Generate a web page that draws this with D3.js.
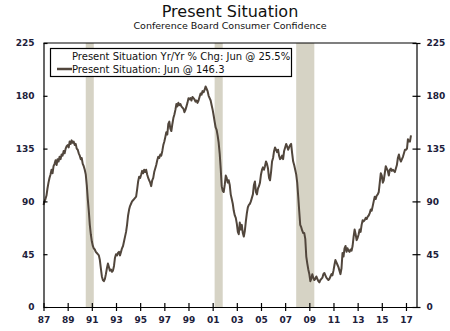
<!DOCTYPE html>
<html>
<head>
<meta charset="utf-8">
<script src="https://cdn.jsdelivr.net/npm/d3@7"></script>
<style>
  body { margin: 0; background: #fff; }
  svg { display: block; font-family: "DejaVu Sans", Verdana, sans-serif; }
</style>
</head>
<body>
<script>
// Present Situation index, monthly, Jan 1987 - Jun 2017
var startYear = 1987;
var monthly = [
  [87, 90, 92, 95, 101, 106, 110, 113, 117, 114, 120, 122],   // 1987
  [125, 121, 126, 124, 128, 126, 130, 129, 133, 131, 135, 137], // 1988
  [138, 136, 141, 139, 142, 140, 141, 138, 139, 135, 134, 131], // 1989
  [129, 126, 127, 122, 120, 117, 113, 104, 92, 82, 70, 62],     // 1990
  [56, 52, 50, 49, 47, 46, 45, 44, 40, 33, 26, 23],             // 1991
  [22, 24, 28, 33, 37, 34, 31, 32, 30, 31, 35, 42],             // 1992
  [45, 44, 46, 47, 44, 47, 50, 52, 56, 60, 64, 70],             // 1993
  [78, 83, 86, 88, 90, 91, 92, 93, 94, 100, 107, 111],          // 1994
  [110, 113, 116, 114, 117, 115, 117, 113, 110, 108, 106, 103], // 1995
  [108, 110, 115, 118, 121, 125, 128, 127, 130, 129, 133, 138], // 1996
  [141, 145, 149, 147, 156, 158, 152, 150, 156, 161, 164, 168], // 1997
  [173, 171, 174, 172, 173, 171, 170, 169, 166, 168, 171, 174], // 1998
  [178, 177, 178, 176, 179, 178, 177, 175, 176, 174, 176, 179], // 1999
  [182, 181, 184, 183, 185, 188, 186, 184, 180, 178, 176, 172], // 2000
  [168, 163, 158, 153, 151, 146, 140, 131, 118, 103, 99, 98],   // 2001
  [104, 112, 110, 106, 108, 104, 96, 92, 88, 82, 78, 76],       // 2002
  [71, 64, 62, 72, 66, 70, 63, 60, 65, 73, 80, 85],             // 2003
  [87, 88, 90, 93, 96, 104, 107, 98, 96, 101, 103, 106],        // 2004
  [113, 117, 119, 117, 120, 124, 122, 118, 110, 108, 115, 124], // 2005
  [127, 133, 136, 134, 132, 134, 129, 126, 127, 129, 126, 133], // 2006
  [136, 139, 137, 134, 136, 138, 139, 131, 124, 121, 117, 113], // 2007
  [106, 94, 82, 70, 68, 65, 63, 63, 58, 43, 37, 32],            // 2008
  [28, 22, 24, 28, 25, 23, 24, 26, 24, 22, 21, 23],             // 2009
  [24, 25, 28, 29, 27, 25, 24, 23, 24, 26, 28, 27],             // 2010
  [31, 36, 40, 38, 36, 34, 31, 28, 33, 46, 43, 50],             // 2011
  [52, 47, 50, 48, 47, 49, 48, 52, 60, 66, 62, 57],             // 2012
  [59, 62, 66, 64, 70, 74, 73, 74, 76, 75, 77, 78],             // 2013
  [80, 83, 82, 86, 90, 94, 92, 95, 96, 98, 106, 114],           // 2014
  [112, 106, 108, 114, 120, 118, 116, 112, 117, 118, 116, 117], // 2015
  [116, 115, 118, 121, 127, 130, 126, 124, 126, 128, 131, 134], // 2016
  [134, 135, 143, 141, 141, 146.3]                              // 2017
];

// recessions [start, end] as [year, month index]
var recessions = [
  [[1990, 6], [1991, 2]],
  [[2001, 2], [2001, 10]],
  [[2007, 11], [2009, 5]]
];

var yTicks = [0, 45, 90, 135, 180, 225];
var xTickYears = d3.range(1987, 2018, 2);

var legendLines = [
  "Present Situation Yr/Yr % Chg: Jun @ 25.5%",
  "Present Situation: Jun @ 146.3"
];

var data = [];
monthly.forEach(function(vals, yi) {
  vals.forEach(function(v, mi) {
    data.push({ date: new Date(startYear + yi, mi, 1), value: v });
  });
});

var width = 450, height = 331;
var margin = { top: 43, right: 33.5, bottom: 24, left: 43.5 };

var svg = d3.select("body").append("svg")
  .attr("width", width)
  .attr("height", height);

var x = d3.scaleTime()
  .domain([new Date(1987, 0, 1), new Date(2017, 10, 15)])
  .range([margin.left, width - margin.right]);

var y = d3.scaleLinear()
  .domain([0, 225])
  .range([height - margin.bottom, margin.top]);

// title
svg.append("text")
  .attr("x", 230).attr("y", 17)
  .attr("text-anchor", "middle")
  .attr("font-size", 16)
  .attr("fill", "#111")
  .text("Present Situation");

svg.append("text")
  .attr("x", 230).attr("y", 29)
  .attr("text-anchor", "middle")
  .attr("font-size", 9.5)
  .attr("fill", "#111")
  .text("Conference Board Consumer Confidence");

// recession shading
svg.append("g").selectAll("rect")
  .data(recessions)
  .join("rect")
  .attr("x", function(d) { return x(new Date(d[0][0], d[0][1], 1)); })
  .attr("width", function(d) {
    return x(new Date(d[1][0], d[1][1], 1)) - x(new Date(d[0][0], d[0][1], 1));
  })
  .attr("y", y(225))
  .attr("height", y(0) - y(225))
  .attr("fill", "#d6d3c5");

// series line
var line = d3.line()
  .x(function(d) { return x(d.date); })
  .y(function(d) { return y(d.value); });

svg.append("path")
  .datum(data)
  .attr("d", line)
  .attr("fill", "none")
  .attr("stroke", "#51463c")
  .attr("stroke-width", 2)
  .attr("stroke-linejoin", "round");

// frame: top border plus axes
svg.append("line")
  .attr("x1", x.range()[0]).attr("x2", x.range()[1])
  .attr("y1", y(225)).attr("y2", y(225))
  .attr("stroke", "#000").attr("stroke-width", 1.2);

function styleAxis(g) {
  g.select(".domain").attr("stroke", "#000").attr("stroke-width", 1.2);
  g.selectAll(".tick line").attr("stroke", "#000").attr("stroke-width", 1.2);
  g.selectAll(".tick text")
    .attr("font-family", "DejaVu Sans, Verdana, sans-serif")
    .attr("font-size", 9)
    .attr("font-weight", "bold")
    .attr("fill", "#20203a");
}

var leftAxis = svg.append("g")
  .attr("transform", "translate(" + x.range()[0] + ",0)")
  .call(d3.axisLeft(y).tickValues(yTicks).tickSize(4).tickPadding(5).tickSizeOuter(0));
leftAxis.selectAll(".tick line").attr("x2", 4);
styleAxis(leftAxis);

var rightAxis = svg.append("g")
  .attr("transform", "translate(" + x.range()[1] + ",0)")
  .call(d3.axisRight(y).tickValues(yTicks).tickSize(4).tickPadding(6).tickSizeOuter(0));
rightAxis.selectAll(".tick line").attr("x2", 4).attr("x1", -4);
styleAxis(rightAxis);

var bottomAxis = svg.append("g")
  .attr("transform", "translate(0," + y(0) + ")")
  .call(d3.axisBottom(x)
    .tickValues(xTickYears.map(function(yr) { return new Date(yr, 0, 1); }))
    .tickFormat(d3.timeFormat("%y"))
    .tickSize(4).tickPadding(6).tickSizeOuter(0));
bottomAxis.selectAll(".tick line").attr("y1", -4);
styleAxis(bottomAxis);

// legend box
var legend = svg.append("g");
legend.append("rect")
  .attr("x", 50.5).attr("y", 48.5)
  .attr("width", 241).attr("height", 28)
  .attr("fill", "#fff")
  .attr("stroke", "#000")
  .attr("stroke-width", 1.2);

legend.append("line")
  .attr("x1", 57).attr("x2", 72)
  .attr("y1", 69).attr("y2", 69)
  .attr("stroke", "#51463c")
  .attr("stroke-width", 2.5);

legend.selectAll("text")
  .data(legendLines)
  .join("text")
  .attr("x", 72)
  .attr("y", function(d, i) { return 59.5 + i * 13; })
  .attr("font-size", 10)
  .attr("fill", "#111")
  .text(function(d) { return d; });
</script>
</body>
</html>
